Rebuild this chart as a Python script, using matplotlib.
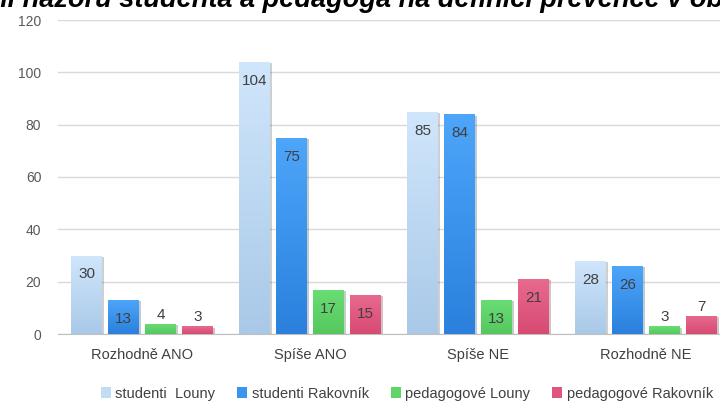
import numpy as np
import matplotlib
matplotlib.use("Agg")
import matplotlib.pyplot as plt
import matplotlib.patheffects as pe
from matplotlib.patches import Patch
from matplotlib.colors import LinearSegmentedColormap

categories = ["Rozhodně ANO", "Spíše ANO", "Spíše NE", "Rozhodně NE"]
series_names = ["studenti  Louny", "studenti Rakovník", "pedagogové Louny", "pedagogové Rakovník"]
studenti_louny = [30, 104, 85, 28]
studenti_rakovnik = [13, 75, 84, 26]
pedagogove_louny = [4, 17, 13, 3]
pedagogove_rakovnik = [3, 15, 21, 7]
series = [studenti_louny, studenti_rakovnik, pedagogove_louny, pedagogove_rakovnik]
colors = ["#c3dcf5", "#3a95f0", "#5fd567", "#e0557c"]
top_colors = ["#d0e6fc", "#4ea6fa", "#6ade75", "#e86a8f"]
bottom_colors = ["#a9c9e7", "#2a80dc", "#54c85d", "#d84a72"]

plt.rcParams['font.family'] = ['Liberation Sans', 'DejaVu Sans']

fig = plt.figure(figsize=(7.2, 4.05), dpi=100)
ax = fig.add_axes([58 / 720, 71 / 405, 672 / 720, 314 / 405])
ax.set_xlim(-0.5, 3.5)
ax.set_ylim(0, 120)

x = np.arange(len(categories))
width = 0.18
step = 0.22
offsets = (np.arange(4) - 1.5) * step

grad = np.linspace(1, 0, 256).reshape(-1, 1)
for i, vals in enumerate(series):
    cmap = LinearSegmentedColormap.from_list("g%d" % i, [bottom_colors[i], top_colors[i]])
    bars = ax.bar(x + offsets[i], vals, width, color=colors[i], zorder=3)
    for b in bars:
        b.set_path_effects([pe.SimplePatchShadow(offset=(2, -1), alpha=0.25), pe.Normal()])
        bx, by = b.get_x(), b.get_y()
        im = ax.imshow(grad, cmap=cmap, aspect='auto', zorder=3.5,
                       extent=[bx, bx + b.get_width(), by, by + b.get_height()])
        im.set_clip_path(b)
    for xi, v in zip(x + offsets[i], vals):
        if v >= 10:
            ax.annotate(str(v), (xi, v), xytext=(0, -19), textcoords='offset pixels',
                        ha='center', va='center', fontsize=11, color='#404040', zorder=5)
        else:
            ax.annotate(str(v), (xi, v), xytext=(0, 9), textcoords='offset pixels',
                        ha='center', va='center', fontsize=11, color='#404040', zorder=5)

ax.set_xlim(-0.5, 3.5)
ax.set_ylim(0, 120)
ax.set_yticks(range(0, 121, 20))
ax.set_xticks(x)
ax.set_xticklabels(categories)
ax.tick_params(axis='x', length=0, labelsize=10.5, labelcolor='#404040', pad=10)
ax.tick_params(axis='y', length=0, labelsize=10, labelcolor='#595959', pad=12)
ax.grid(axis='y', color='#d9d9d9', linewidth=1, zorder=0)
for s in ['top', 'right', 'left']:
    ax.spines[s].set_visible(False)
ax.spines['bottom'].set_color('#bfbfbf')

handles = [Patch(facecolor=c) for c in colors]
fig.legend(handles, series_names, loc='center', bbox_to_anchor=(0.565, 0.028), ncol=4,
           frameon=False, fontsize=10.5, handlelength=0.7, handleheight=0.7,
           handletextpad=0.3, columnspacing=1.5, labelcolor='#404040')

fig.text(-0.012, 398 / 405, "ní názoru studenta a pedagoga na definici prevence v obou",
         ha='left', va='baseline', fontsize=19.5, fontweight='bold', fontstyle='italic', color='black')

fig.savefig("out.png", dpi=100)
